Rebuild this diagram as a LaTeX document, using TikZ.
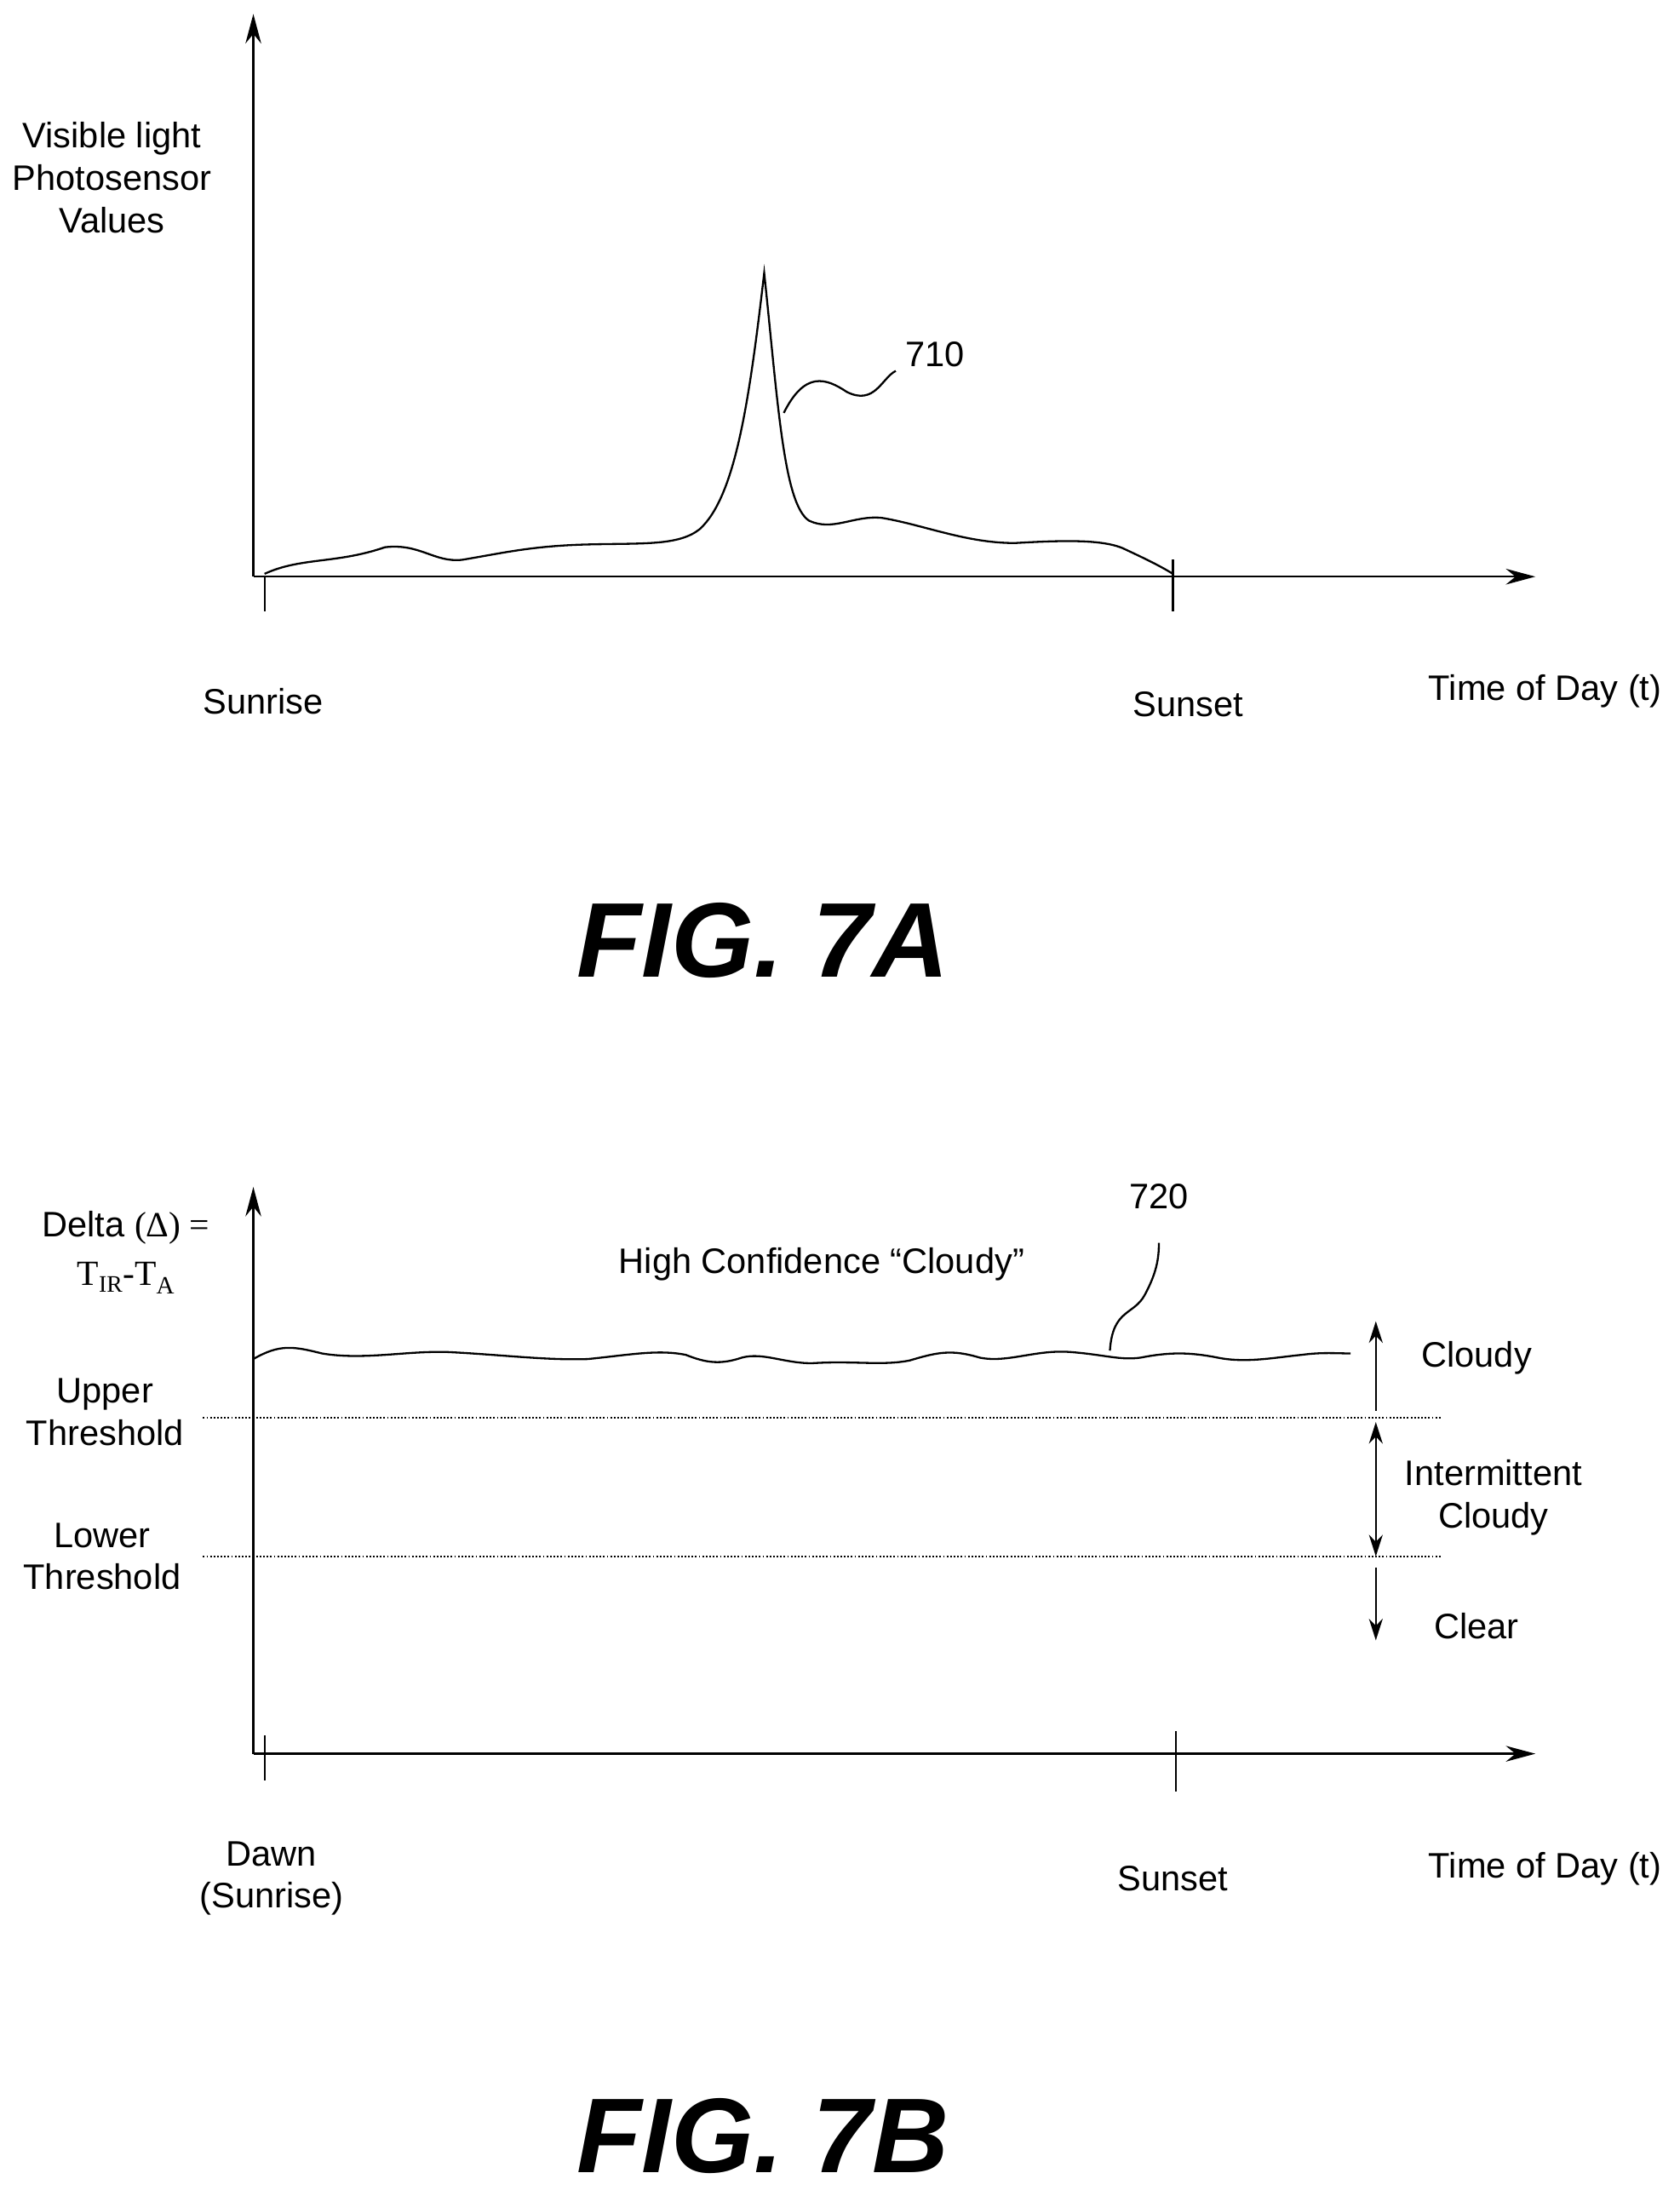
\documentclass[tikz,border=0pt]{standalone}
\usepackage{fontspec}
\setmainfont{Liberation Sans}
\newfontfamily\serifr{Liberation Serif}
\usetikzlibrary{arrows.meta}
\begin{document}
\begin{tikzpicture}[x=0.05cm,y=-0.05cm,line width=2pt,
  lbl/.style={font=\fontsize{36}{43}\selectfont,align=center,inner sep=0},
  fig/.style={font=\fontsize{108}{120}\selectfont\bfseries\itshape,inner sep=0},
  ax/.style={-{Stealth[length=30pt,width=16pt]}},
  dbl/.style={{Stealth[length=22pt,width=14pt]}-{Stealth[length=22pt,width=14pt]}},
  sgl/.style={-{Stealth[length=22pt,width=14pt]}},
  dot/.style={dotted,line width=1.6pt}]
\useasboundingbox (0,0) rectangle (1200,1569);
% ---------- FIG 7A
\coordinate (o1) at (181,412);
\coordinate (ytop1) at (181,10);
\coordinate (xend1) at (1097,412);
\draw[ax] (o1) -- (ytop1);
\draw[ax] (o1) -- (xend1);
\draw (189,412) -- (189,437);
\draw (838,400) -- (838,437);
\draw (189,410) .. controls (215,398) and (240,403) .. (275,391)
  .. controls (300,388) and (310,402) .. (330,400)
  .. controls (360,395) and (380,390) .. (420,389)
  .. controls (460,388) and (485,390) .. (500,378)
  .. controls (525,355) and (535,290) .. (546,195)
  .. controls (556,290) and (560,360) .. (578,372)
  .. controls (595,380) and (610,368) .. (630,370)
  .. controls (660,375) and (690,388) .. (725,388)
  .. controls (760,386) and (790,385) .. (805,393)
  .. controls (820,400) and (830,405) .. (838,410);
\node[lbl] (l710) at (668,253) {710};
\draw (560,295) .. controls (575,265) and (590,270) .. (605,280)
  .. controls (625,290) and (630,270) .. (640,265);
\node[lbl] (yl1) at (80,127) {Visible light\\Photosensor\\Values};
\node[lbl] (sr) at (188,501) {Sunrise};
\node[lbl] (ss1) at (849,503) {Sunset};
\node[lbl] (t1) at (1104,494) {Time of Day (t)};
\node[fig] (f7a) at (545,672) {FIG. 7A};
% ---------- FIG 7B
\coordinate (o2) at (181,1253);
\coordinate (ytop2) at (181,848);
\coordinate (xend2) at (1097,1253);
\draw[ax] (o2) -- (ytop2);
\draw[ax] (o2) -- (xend2);
\draw (189,1240) -- (189,1272);
\draw (840,1237) -- (840,1280);
\draw[dot] (145,1013) -- (1030,1013);
\draw[dot] (145,1112) -- (1030,1112);
\draw (181,971) .. controls (200,960) and (210,962) .. (230,967)
  .. controls (260,972) and (290,965) .. (320,966)
  .. controls (360,968) and (390,972) .. (420,971)
  .. controls (450,968) and (470,964) .. (490,968)
  .. controls (505,974) and (515,975) .. (530,970)
  .. controls (545,966) and (560,974) .. (580,974)
  .. controls (610,972) and (630,976) .. (650,972)
  .. controls (670,966) and (680,964) .. (700,970)
  .. controls (720,974) and (740,964) .. (765,966)
  .. controls (790,968) and (800,972) .. (815,970)
  .. controls (835,966) and (850,966) .. (870,970)
  .. controls (890,974) and (910,970) .. (930,968)
  .. controls (945,966) and (955,967) .. (965,967);
\node[lbl] (l720) at (828,855) {720};
\draw (793,965) .. controls (795,935) and (810,940) .. (818,925)
  .. controls (826,910) and (828,900) .. (828,888);
\coordinate (a1s) at (983,1008); \coordinate (a1e) at (983,944);
\coordinate (a2s) at (983,1016); \coordinate (a2e) at (983,1112);
\coordinate (a3s) at (983,1120); \coordinate (a3e) at (983,1172);
\draw[sgl] (a1s) -- (a1e);
\draw[dbl] (a2s) -- (a2e);
\draw[sgl] (a3s) -- (a3e);
\node[lbl] (cl) at (1055,970) {Cloudy};
\node[lbl] (ic) at (1067,1070) {Intermittent\\Cloudy};
\node[lbl] (clr) at (1055,1162) {Clear};
\node[lbl] (hc) at (587,903) {High Confidence “Cloudy”};
\node[lbl] (dl) at (90,877) {Delta {\serifr(Δ) =}};
\node[lbl] (tt) at (90,913) {\serifr T\textsubscript{\fontsize{24}{24}\selectfont IR}-T\textsubscript{A}};
\node[lbl] (ut) at (75,1009) {Upper\\Threshold};
\node[lbl] (lt) at (73,1112) {Lower\\Threshold};
\node[lbl] (dw) at (194,1342) {Dawn\\(Sunrise)};
\node[lbl] (ss2) at (838,1342) {Sunset};
\node[lbl] (t2) at (1104,1335) {Time of Day (t)};
\node[fig] (f7b) at (545,1526) {FIG. 7B};
\end{tikzpicture}
\end{document}
